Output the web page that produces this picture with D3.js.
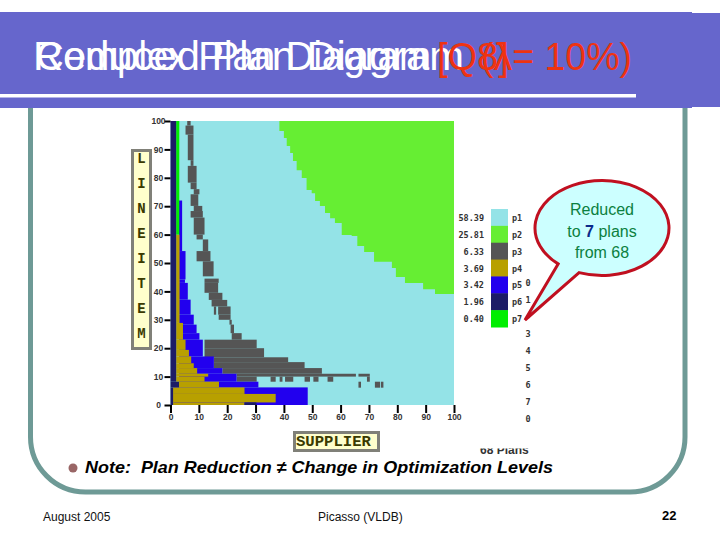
<!DOCTYPE html>
<html><head><meta charset="utf-8">
<script src="https://cdnjs.cloudflare.com/ajax/libs/d3/7.8.5/d3.min.js"></script>
<style>html,body{margin:0;padding:0;background:#fff}svg{display:block}text{font-family:"Liberation Sans",sans-serif}</style>
</head><body><svg id="c" width="720" height="540"></svg>
<script>
// ---------- data ----------
const xTicks=[0,10,20,30,40,50,60,70,80,90,100];
const yTicks=[0,10,20,30,40,50,60,70,80,90,100];
const planNames=["p1","p2","p3","p4","p5","p6","p7"];
const planShares=["58.39","25.81","6.33","3.69","3.42","1.96","0.40"];
const planColors=["#94E3E7","#66EE33","#555555","#B8A000","#2200EE","#1C1C66","#00EE00"];
const yAxisLetters=["L","I","N","E","I","T","E","M"];
const strayDigits=["0","1","-","3","4","5","6","7","0"];
// p2 boundary [supplier, lineitem]
const p2Boundary=[[38.4,96.5],[40,94],[41,91.2],[42.2,88.7],[43.2,85.9],[44.5,82.7],[46.3,79.9],[48,75.7],[49.8,74.6],[51,71.8],[52.7,70.1],[54.5,67.6],[56.3,65.8],[58,64.1],[60.4,59.9],[63.9,59.5],[65.9,56],[68.3,53.9],[71.8,50.4],[78.1,48.2],[79.5,45.1],[82.7,43],[89.1,40.8],[93.3,39.1],[100,39.1]];
// bands: [y0,y1,x0,x1]
const p3Bands=[[98.4,100,5.9,7.1],[95.2,98.4,5.3,8.1],[86.2,95.2,6.1,8.1],[84.2,86.2,7.1,8.1],[78.3,84.2,6.1,9.2],[76,78.3,7.1,9.2],[74.2,76,8.2,10.2],[70.1,74.2,7.1,9.8],[68.3,70.1,8.2,11.2],[66,68.3,7.1,11.4],[60,66,8.2,12],[58.3,60,9.2,11.4],[54.2,58.3,11.4,13.3],[50.6,54.2,9.2,14.1],[45.3,50.6,11.4,15.2],[43,44.5,12,17],[39.5,43,12,16.8],[37,39.5,13.5,18.3],[34.7,37,14.5,20],[31.8,34.7,16.8,21.2],[31.8,34.7,15.3,16.1],[30,31.8,17,21.2],[28.3,30,20.8,21.6],[25.3,28.3,21.2,22.4],[23,25.3,21.6,25.1],[20,23,12,30.4],[16.8,20,12,33],[15.1,16.8,15.3,41.5],[13,15.1,15.3,47.3],[11,13,18.3,53.4],[10,11,23.3,65.4],[10,11,66.3,70.3],[8.2,10,23.3,30.4],[8.2,10,35.3,37.1],[8.2,10,38.5,39.5],[8.2,10,40.4,43.3],[8.2,10,47.3,49.2],[8.2,10,50.4,52.2],[8.2,10,55.4,57.4],[8.2,10,69.3,70.3],[6.1,8.2,66.3,67.2],[6.1,8.2,72.1,73.9],[6.1,8.2,74.2,75.1]];
const p5Bands=[[54.2,72,3,4.1],[44.2,54.2,3,5.3],[43,44.2,3,5.1],[37.1,43,3,6.1],[31.8,37.1,3,7.1],[28.3,31.8,3,8.2],[25.3,28.3,3,9.2],[23,25.3,3,10.2],[17.1,23,3,11.4],[13,17.1,3,15.3],[11,13,3,18.3],[8.2,11,3,23.3],[6.2,8.2,3,31],[0,6.2,1,48.4]];
const p4Bands=[[28.9,60,2,3.2],[23,28.9,2,4.4],[19.4,23,2,5.3],[17.1,19.4,2,6.5],[14.7,17.1,2,7.3],[13,14.7,2,8.2],[11,13,2,9.4],[10,11,2,13.3],[8.2,10,2,12],[6.2,8.2,3,17.1],[3.9,6.2,0.9,26.1],[0.9,3.9,0.9,37.1],[0,0.9,0.9,26.1]];
const p6Bands=[[8.2,100,0,2],[6.2,8.2,0,3],[0,6.2,0,0.9],[0,0.9,26.1,30.3]];
const p7Bands=[[60,100,2,3.1]];
// ---------- drawing ----------
const svg=d3.select("#c");
const x=d3.scaleLinear().domain([0,100]).range([170.5,454]);
const y=d3.scaleLinear().domain([0,100]).range([405,121]);
// frame
svg.append("rect").attr("x",30.5).attr("y",-100).attr("width",654.5).attr("height",592).attr("rx",55).attr("ry",55).attr("fill","#fff").attr("stroke","#6E9A96").attr("stroke-width",5);
svg.append("rect").attr("x",0).attr("y",0).attr("width",720).attr("height",12).attr("fill","#fff");
// header
svg.append("rect").attr("x",0).attr("y",12).attr("width",692).attr("height",96).attr("fill","#6666CC");
svg.append("rect").attr("x",692).attr("y",13).attr("width",28).attr("height",94).attr("fill","#6666CC");
svg.append("rect").attr("x",0).attr("y",94).attr("width",636).attr("height",3.5).attr("fill","#fff");
const t=svg.append("g");
const fit={"textLength":0};
t.append("text").attr("x",36).attr("y",70).attr("font-size",40).attr("textLength",395).attr("lengthAdjust","spacingAndGlyphs").attr("fill","#fff").text("Complex Plan Diagram");
t.append("text").attr("x",33).attr("y",70).attr("font-size",41).attr("textLength",431).attr("lengthAdjust","spacingAndGlyphs").attr("fill","#fff").text("Reduced Plan Diagram");
t.append("text").attr("x",437).attr("y",70).attr("font-size",38).attr("fill","#EE3311").text("[Q8]");
t.append("text").attr("x",481).attr("y",70).attr("font-size",38).attr("textLength",151).attr("lengthAdjust","spacingAndGlyphs").attr("fill","#EE3311").text("(λ= 10%)");
// plot
const plot=svg.append("g");
plot.append("rect").attr("x",x(0)).attr("y",y(100)).attr("width",x(100)-x(0)).attr("height",y(0)-y(100)).attr("fill",planColors[0]);
const p2Line=d3.line().x(d=>x(d[0])).y(d=>y(d[1])).curve(d3.curveStepAfter);
plot.append("path").attr("d",p2Line(p2Boundary.concat([[100,100],[38.4,100]]))).attr("fill",planColors[1]);
function bands(data,col){plot.append("g").attr("fill",col).selectAll("rect").data(data).join("rect")
 .attr("x",d=>x(d[2])).attr("width",d=>x(d[3])-x(d[2])).attr("y",d=>y(d[1])).attr("height",d=>y(d[0])-y(d[1]));}
bands(p3Bands,planColors[2]);bands(p5Bands,planColors[4]);bands(p4Bands,planColors[3]);bands(p7Bands,planColors[6]);bands(p6Bands,planColors[5]);
// axes
const tickFont='"DejaVu Sans Mono",monospace';
const ax=svg.append("g").attr("transform","translate(0,405)").call(d3.axisBottom(x).tickValues(xTicks).tickSize(8).tickPadding(1));
const ay=svg.append("g").attr("transform","translate(170.5,0)").call(d3.axisLeft(y).tickValues(yTicks).tickSize(6).tickPadding(0));
[ax,ay].forEach(a=>{a.select(".domain").remove();a.selectAll("line").attr("stroke","#000").attr("stroke-width",2);
 a.selectAll("text").attr("font-family",tickFont).attr("font-weight","bold").attr("font-size",8.5).attr("fill","#333");});
ay.selectAll("text").attr("text-anchor","middle").attr("x",-12);
// y title box
svg.append("rect").attr("x",132.5).attr("y",150.5).attr("width",18).attr("height",198).attr("fill","#FFFFCC").attr("stroke","#808078").attr("stroke-width",3);
svg.append("g").selectAll("text").data(yAxisLetters).join("text").attr("x",141.5).attr("y",(d,i)=>162.5+i*25.1)
 .attr("text-anchor","middle").attr("font-size",14).attr("font-weight","bold").attr("fill","#3a3a00").style("font-family","Liberation Mono").text(d=>d);
// x title box
svg.append("rect").attr("x",294.5).attr("y",432.5).attr("width",84).attr("height",18).attr("fill","#FFFFCC").attr("stroke","#808078").attr("stroke-width",3);
svg.append("text").attr("x",296).attr("y",446).attr("textLength",75).attr("lengthAdjust","spacingAndGlyphs").attr("font-size",15).attr("font-weight","bold").attr("fill","#3a3a00").style("font-family","Liberation Mono").text("SUPPLIER");
// legend
const ly=d3.scaleBand().domain(planNames).range([209,327]);
const leg=svg.append("g");
leg.selectAll("rect").data(planNames).join("rect").attr("x",491).attr("width",17).attr("y",d=>ly(d)).attr("height",ly.bandwidth()+.5).attr("fill",(d,i)=>planColors[i]);
const small=(sel)=>sel.style("font-family",tickFont).attr("font-weight","bold").attr("font-size",8.5).attr("fill","#333");
small(leg.append("g").selectAll("text").data(planShares).join("text").attr("x",484).attr("y",(d,i)=>ly(planNames[i])+12).attr("text-anchor","end").text(d=>d));
small(leg.append("g").selectAll("text").data(planNames).join("text").attr("x",512).attr("y",d=>ly(d)+12).text(d=>d));
small(svg.append("g").selectAll("text").data(strayDigits).join("text").attr("x",528).attr("y",(d,i)=>286+i*17).attr("text-anchor","middle").text(d=>d));
// clipped caption
svg.append("defs").append("clipPath").attr("id","cap").append("rect").attr("x",470).attr("y",448.5).attr("width",80).attr("height",10);
svg.append("text").attr("clip-path","url(#cap)").attr("x",480).attr("y",454).attr("font-size",12).attr("font-weight","bold").attr("fill","#333").text("68 Plans");
// callout
const cx=602,cy=228,rx=67,ry=47.5;
const tip=[525,320];
const pt=a=>[cx+rx*Math.cos(a),cy+ry*Math.sin(a)];
const A=pt(2.285),B=pt(1.92);
svg.append("path").attr("d",`M${A} L${tip} L${B} A${rx},${ry} 0 1 0 ${A} Z`).attr("fill","#CCFFFF").attr("stroke","#C01020").attr("stroke-width",3);
const ct=svg.append("g").attr("font-size",16).attr("text-anchor","middle").attr("fill","#0B8040");
ct.append("text").attr("x",602).attr("y",215).text("Reduced");
const l2=ct.append("text").attr("x",602).attr("y",237);l2.append("tspan").text("to ");l2.append("tspan").attr("fill","#0A2A8A").attr("font-weight","bold").text("7");l2.append("tspan").text(" plans");
ct.append("text").attr("x",602).attr("y",258).text("from 68");
// note + footer
svg.append("circle").attr("cx",73).attr("cy",468).attr("r",4.5).attr("fill","#996666");
svg.append("text").attr("x",85).attr("y",473).attr("font-size",17).attr("font-weight","bold").attr("font-style","italic").attr("fill","#000").attr("textLength",468).attr("lengthAdjust","spacingAndGlyphs").attr("xml:space","preserve").text("Note:  Plan Reduction ≠ Change in Optimization Levels");
svg.append("text").attr("x",43).attr("y",521).attr("font-size",12).attr("fill","#111").text("August 2005");
svg.append("text").attr("x",318).attr("y",521).attr("font-size",12).attr("fill","#111").text("Picasso (VLDB)");
svg.append("text").attr("x",662).attr("y",520).attr("font-size",13).attr("font-weight","bold").attr("fill","#000").text("22");
</script></body></html>
